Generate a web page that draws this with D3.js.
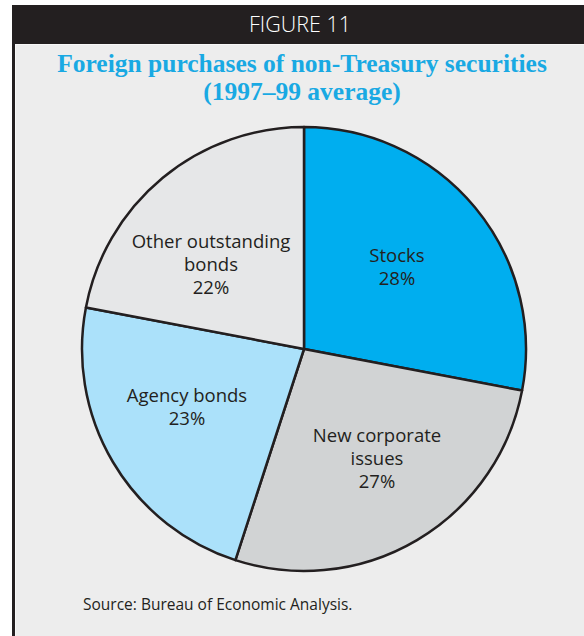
<!DOCTYPE html>
<html>
<head>
<meta charset="utf-8">
<script src="https://cdn.jsdelivr.net/npm/d3@7"></script>
<style>
  html, body { margin: 0; padding: 0; background: #ffffff; }
  svg { display: block; }
</style>
</head>
<body>
<svg id="chart" width="584" height="636"></svg>
<script>
// Share of foreign purchases of non-Treasury securities, 1997–99 average
const categories = ["Stocks", "New corporate issues", "Agency bonds", "Other outstanding bonds"];
const labelLines = [["Stocks"], ["New corporate", "issues"], ["Agency bonds"], ["Other outstanding", "bonds"]];
const shares = [28, 27, 23, 22];
const sliceColors = ["#00aeef", "#d1d3d4", "#abe1fa", "#e6e7e8"];

// Label block centres, as offsets from the pie centre
const labelOffsets = [[93, -82], [73, 109], [-117, 58], [-93, -85]];

const W = 584, H = 636;
const svg = d3.select("#chart");

// Frame: dark left rule and header bar, light grey panel
svg.append("rect").attr("x", 12).attr("y", 5).attr("width", W - 12).attr("height", H - 5).attr("fill", "#231f20");
svg.append("rect").attr("x", 15).attr("y", 44).attr("width", W - 15).attr("height", H - 44).attr("fill", "#f7f7f7");
svg.append("rect").attr("x", 16).attr("y", 45).attr("width", W - 16).attr("height", H - 45).attr("fill", "#ededed");

svg.append("text")
  .attr("x", 300).attr("y", 32)
  .attr("text-anchor", "middle")
  .attr("fill", "#ffffff")
  .style("font-family", "'Open Sans', sans-serif")
  .style("font-weight", 300)
  .style("font-size", "21.5px")
  .text("FIGURE 11");

const title = svg.append("text")
  .attr("text-anchor", "middle")
  .attr("fill", "#19a9e3")
  .style("font-family", "'Liberation Serif', 'Times New Roman', serif")
  .style("font-weight", "bold")
  .style("font-size", "25.5px");
title.append("tspan").attr("x", 302).attr("y", 72).text("Foreign purchases of non-Treasury securities");
title.append("tspan").attr("x", 302).attr("y", 100).text("(1997–99 average)");

// Pie
const cx = 304, cy = 349, radius = 222;
const data = categories.map((c, i) => ({ name: c, value: shares[i], color: sliceColors[i], lines: labelLines[i], off: labelOffsets[i] }));

const pie = d3.pie().value(d => d.value).sort(null).startAngle(0).endAngle(2 * Math.PI);
const arc = d3.arc().innerRadius(0).outerRadius(radius);

const g = svg.append("g").attr("transform", `translate(${cx},${cy})`);

g.selectAll("path.slice")
  .data(pie(data))
  .join("path")
  .attr("class", "slice")
  .attr("d", arc)
  .attr("fill", d => d.data.color)
  .attr("stroke", "#231f20")
  .attr("stroke-width", 2.5)
  .attr("stroke-linejoin", "round");

const lineH = 23;
const labels = g.selectAll("text.label")
  .data(pie(data))
  .join("text")
  .attr("class", "label")
  .attr("text-anchor", "middle")
  .attr("fill", "#231f20")
  .style("font-family", "'Open Sans', sans-serif")
  .style("font-size", "18.5px");

labels.each(function (d) {
  const t = d3.select(this);
  const lines = d.data.lines.concat([d.data.value + "%"]);
  const x0 = d.data.off[0];
  const y0 = d.data.off[1] - (lines.length - 1) * lineH / 2 + 6.5;
  lines.forEach((ln, i) => {
    t.append("tspan").attr("x", x0).attr("y", y0 + i * lineH).text(ln);
  });
});

svg.append("text")
  .attr("x", 83).attr("y", 610)
  .attr("fill", "#231f20")
  .style("font-family", "'Open Sans', sans-serif")
  .style("font-size", "15.5px")
  .text("Source: Bureau of Economic Analysis.");
</script>
</body>
</html>
